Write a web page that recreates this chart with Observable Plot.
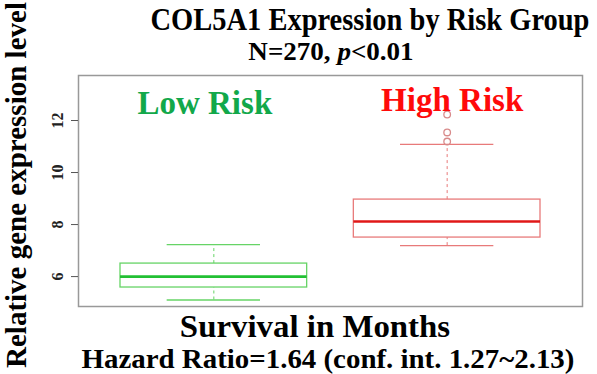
<!DOCTYPE html>
<html>
<head>
<meta charset="utf-8">
<script src="https://cdn.jsdelivr.net/npm/d3@7"></script>
<script src="https://cdn.jsdelivr.net/npm/@observablehq/plot@0.6"></script>
<style>
  body { margin: 0; background: #fff; }
  #wrap { position: relative; width: 597px; height: 374px; overflow: hidden; font-family: "Liberation Serif", "Times New Roman", serif; font-weight: bold; color: #000; }
  .t { position: absolute; white-space: nowrap; transform: translateX(-50%); line-height: 0.8; }
  #ylab { position: absolute; left: 17px; top: 185px; transform: translate(-50%, -50%) rotate(-90deg); white-space: nowrap; font-size: 29px; line-height: 0.8; }
</style>
</head>
<body>
<div id="wrap">
  <div id="chart"></div>
  <div class="t" style="left:370px; top:7.4px; font-size:32px; transform: translateX(-50%) scaleX(0.89);">COL5A1 Expression by Risk Group</div>
  <div class="t" style="left:331px; top:42.3px; font-size:26px; transform: translateX(-50%) scaleX(1.04);">N=270, <i>p</i>&lt;0.01</div>
  <div class="t" style="left:315px; top:314.6px; font-size:31px; transform: translateX(-50%) scaleX(1.06);">Survival in Months</div>
  <div class="t" style="left:328px; top:348.6px; font-size:27px; transform: translateX(-50%) scaleX(1.07);">Hazard Ratio=1.64 (conf. int. 1.27~2.13)</div>
  <div id="ylab">Relative gene expression level</div>
</div>
<script>
// Data
const groups = ["Low Risk", "High Risk"];
const whiskerLow = [5.1, 7.19];
const q1 = [5.58, 7.5];
const median = [6.0, 8.12];
const q3 = [6.5, 8.96];
const whiskerHigh = [7.23, 11.08];
const outliersHigh = [11.19, 11.54, 12.23];
const yTicks = [6, 8, 10, 12];

const boxColors = ["#66d466", "#e87a7a"];
const medianColors = ["#22c033", "#e01818"];
const labelColors = ["#12a84a", "#ff0a0a"];
const labelY = [12.65, 12.77];

const rows = groups.map((g, i) => ({
  g, pos: i + 1,
  lo: whiskerLow[i], q1: q1[i], med: median[i], q3: q3[i], hi: whiskerHigh[i],
  box: boxColors[i], mc: medianColors[i], lc: labelColors[i], ly: labelY[i]
}));
const outRows = outliersHigh.map(v => ({pos: 2, v}));

const chart = Plot.plot({
  width: 597,
  height: 374,
  marginLeft: 78,
  marginRight: 15,
  marginTop: 75,
  marginBottom: 68,
  style: {fontFamily: "'Liberation Serif', 'Times New Roman', serif", background: "white"},
  x: {domain: [0.42, 2.58], axis: null},
  y: {domain: [4.85, 13.73]},
  marks: [
    Plot.frame({stroke: "#999", strokeWidth: 1.5}),
    Plot.axisY({ticks: yTicks, tickSize: 7, tickRotate: -90, tickPadding: 9, fontSize: 16, fontWeight: "bold", stroke: "#555", color: "#222", label: null}),
    // whiskers (dashed)
    Plot.ruleX(rows, {x: "pos", y1: "q3", y2: "hi", stroke: "box", strokeDasharray: "3,3", strokeWidth: 1}),
    Plot.ruleX(rows, {x: "pos", y1: "lo", y2: "q1", stroke: "box", strokeDasharray: "3,3", strokeWidth: 1}),
    // caps
    Plot.ruleY(rows, {y: "hi", x1: d => d.pos - 0.2, x2: d => d.pos + 0.2, stroke: "box", strokeWidth: 1.3}),
    Plot.ruleY(rows, {y: "lo", x1: d => d.pos - 0.2, x2: d => d.pos + 0.2, stroke: "box", strokeWidth: 1.3}),
    // boxes
    Plot.rect(rows, {x1: d => d.pos - 0.4, x2: d => d.pos + 0.4, y1: "q1", y2: "q3", stroke: "box", fill: "white", strokeWidth: 1.3}),
    // medians
    Plot.ruleY(rows, {y: "med", x1: d => d.pos - 0.4, x2: d => d.pos + 0.4, stroke: "mc", strokeWidth: 2.6}),
    // outliers
    Plot.dot(outRows, {x: "pos", y: "v", r: 3.3, stroke: "#d88a8a", strokeWidth: 1.3, fill: "none"}),
    // group labels
    Plot.text(rows.filter(d => d.pos === 1), {x: "pos", y: "ly", text: "g", fill: "lc", dx: -9, fontSize: 33, fontWeight: "bold"}),
    Plot.text(rows.filter(d => d.pos === 2), {x: "pos", y: "ly", text: "g", fill: "lc", dx: 5, fontSize: 33, fontWeight: "bold"})
  ]
});
document.getElementById("chart").appendChild(chart);
</script>
</body>
</html>
